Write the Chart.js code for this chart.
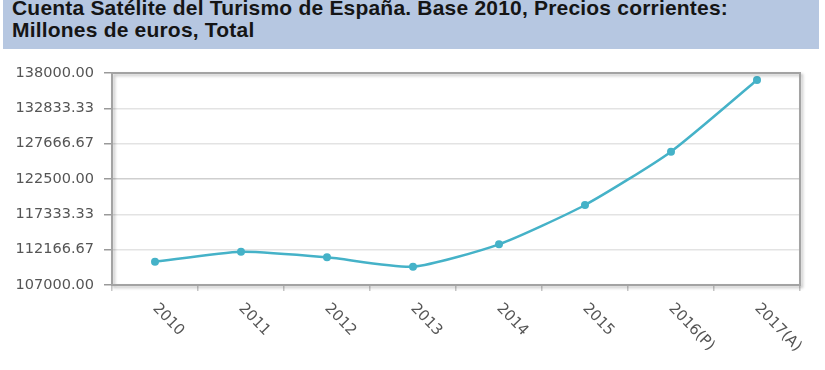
<!DOCTYPE html>
<html>
<head>
<meta charset="utf-8">
<script src="https://cdn.jsdelivr.net/npm/chart.js@4"></script>
<style>
  html, body { margin: 0; padding: 0; background: #fff; }
  #wrap { position: relative; width: 825px; height: 370px; overflow: hidden; }
  #title {
    position: absolute; left: 3px; top: 0; width: 816px; height: 49px;
    background: #b6c7e1; color: #151515; overflow: hidden;
    font-family: "Liberation Sans", Arial, sans-serif; font-weight: bold;
    font-size: 21px; line-height: 22px; letter-spacing: 0.2px;
    z-index: 2;
  }
  #title div { position: relative; left: 9px; top: -3px; white-space: nowrap; }
  canvas { position: absolute; left: 0; top: 0; }
</style>
</head>
<body>
<div id="wrap">
  <div id="title"><div>Cuenta Satélite del Turismo de España. Base 2010, Precios corrientes:<br>Millones de euros, Total</div></div>
  <canvas id="c" width="825" height="370"></canvas>
</div>
<script>
const categories = ["2010", "2011", "2012", "2013", "2014", "2015", "2016(P)", "2017(A)"];
const totalValues = [110400, 111870, 111050, 109680, 112950, 118700, 126500, 136970];
const yTicks = [107000.00, 112166.67, 117333.33, 122500.00, 127666.67, 132833.33, 138000.00];

const lineColor = "#45b2c8";

const frame = {
  id: "frame",
  afterDatasetsDraw(chart) {
    const { ctx, chartArea: a } = chart;
    ctx.save();
    ctx.shadowColor = "rgba(0,0,0,0.25)";
    ctx.shadowBlur = 3;
    ctx.shadowOffsetX = 2;
    ctx.shadowOffsetY = 2;
    ctx.strokeStyle = "#a3a3a3";
    ctx.lineWidth = 2;
    ctx.strokeRect(a.left, a.top, a.right - a.left, a.bottom - a.top);
    ctx.restore();
  },
  afterDraw(chart) {
    const { ctx } = chart;
    const xs = chart.scales.x;
    ctx.save();
    ctx.font = "15px 'DejaVu Sans'";
    ctx.fillStyle = "#555";
    ctx.textAlign = "left";
    ctx.textBaseline = "middle";
    categories.forEach((lab, i) => {
      const px = xs.getPixelForTick(i);
      ctx.save();
      ctx.translate(px, 306);
      ctx.rotate(46 * Math.PI / 180);
      ctx.fillText(lab, 0, 0);
      ctx.restore();
    });
    ctx.restore();
  }
};

new Chart(document.getElementById("c"), {
  type: "line",
  data: {
    labels: categories,
    datasets: [{
      data: totalValues,
      borderColor: lineColor,
      backgroundColor: lineColor,
      borderWidth: 2.5,
      pointRadius: 4,
      pointBorderWidth: 0,
      pointBackgroundColor: lineColor,
      tension: 0.2,
      fill: false
    }]
  },
  options: {
    responsive: false,
    animation: false,
    events: [],
    layout: { padding: { top: 73, right: 25, left: 0, bottom: 0 } },
    plugins: { legend: { display: false }, tooltip: { enabled: false }, title: { display: false } },
    scales: {
      x: {
        offset: true,
        grid: { offset: true, drawOnChartArea: false, drawTicks: true, tickLength: 6, tickColor: "#c8c8c8", lineWidth: 1.5 },
        border: { display: false },
        ticks: { display: false },
        afterFit(s) { s.height = 85; }
      },
      y: {
        min: 107000,
        max: 138000,
        afterBuildTicks(s) { s.ticks = yTicks.map(v => ({ value: v })); },
        afterFit(s) { s.width = 112; },
        grid: {
          color: (c) => (c.tick && c.tick.value === 122500 ? "#cfcfcf" : "#e3e3e3"),
          tickColor: "#9a9a9a",
          tickLength: 8,
          lineWidth: 1.5
        },
        border: { display: false },
        ticks: {
          padding: 10,
          color: "#555",
          font: { family: "'DejaVu Sans'", size: 14.5 },
          callback: (v) => Number(v).toFixed(2)
        }
      }
    }
  },
  plugins: [frame]
});
</script>
</body>
</html>
